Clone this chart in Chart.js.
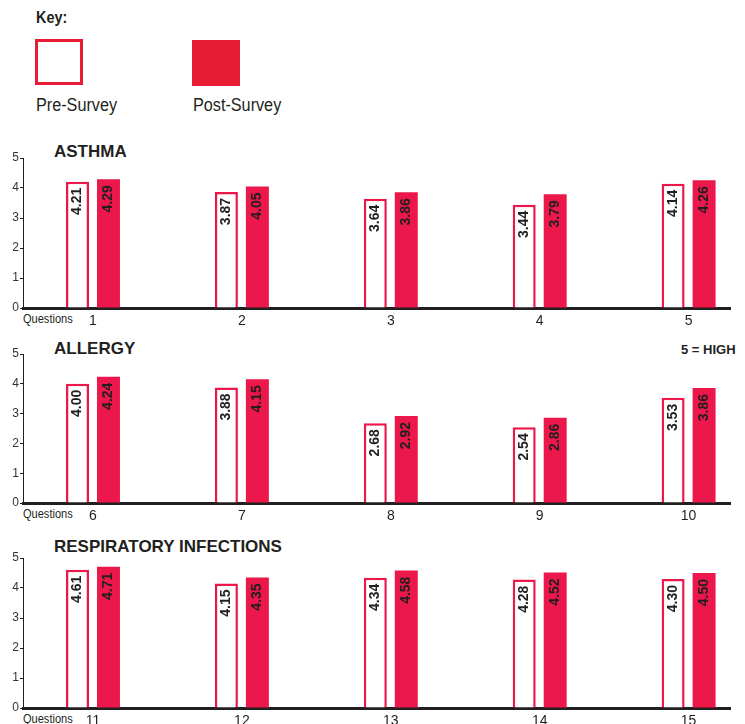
<!DOCTYPE html>
<html>
<head>
<meta charset="utf-8">
<script src="https://cdn.jsdelivr.net/npm/chart.js@4/dist/chart.umd.min.js"></script>
<style>
  html, body { margin: 0; padding: 0; background: #fff; }
  body { width: 745px; height: 724px; position: relative; overflow: hidden;
         font-family: "Liberation Sans", Arial, sans-serif; color: #231f20; }
  .abs { position: absolute; white-space: nowrap; }
  .key { left: 36px; top: 10px; font-size: 16px; line-height: 16px; font-weight: bold;
         transform: scaleX(0.9); transform-origin: left top; }
  .swatch { width: 48px; height: 46px; box-sizing: border-box; }
  .swatch.pre { left: 35px; top: 39px; border: 3.5px solid #E81C34; background: #fff; }
  .swatch.post { left: 192px; top: 40px; background: #E81C34; }
  .keylbl { top: 96px; font-size: 18px; line-height: 18px; transform: scaleX(0.9); transform-origin: left top; }
  .title { font-size: 17px; line-height: 17px; font-weight: bold; left: 54px; }
  .high { left: 681px; top: 343px; font-size: 13px; line-height: 13px; font-weight: bold; }
  .qlbl { left: 23px; font-size: 12px; line-height: 12px; transform: scaleX(0.92); transform-origin: left top; }
  .chartbox { position: absolute; left: 0; width: 745px; }
</style>
</head>
<body>
<div class="abs key">Key:</div>
<div class="abs swatch pre"></div>
<div class="abs swatch post"></div>
<div class="abs keylbl" style="left:36px">Pre-Survey</div>
<div class="abs keylbl" style="left:193px">Post-Survey</div>

<div class="abs title" style="top:143px">ASTHMA</div>
<div class="abs title" style="top:340px">ALLERGY</div>
<div class="abs high">5 = HIGH</div>
<div class="abs title" style="top:538px">RESPIRATORY INFECTIONS</div>

<div class="abs qlbl" style="top:313px">Questions</div>
<div class="abs qlbl" style="top:508px">Questions</div>
<div class="abs qlbl" style="top:713px">Questions</div>

<div class="chartbox" style="top:148px;height:184px"><canvas id="asthma"></canvas></div>
<div class="chartbox" style="top:344px;height:183px"><canvas id="allergy"></canvas></div>
<div class="chartbox" style="top:548px;height:184px"><canvas id="resp"></canvas></div>

<script>
// Mean scores on a 1-5 scale (5 = high), before and after the program
const asthmaQuestions = [1, 2, 3, 4, 5];
const asthmaPre  = [4.21, 3.87, 3.64, 3.44, 4.14];
const asthmaPost = [4.29, 4.05, 3.86, 3.79, 4.26];

const allergyQuestions = [6, 7, 8, 9, 10];
const allergyPre  = [4.00, 3.88, 2.68, 2.54, 3.53];
const allergyPost = [4.24, 4.15, 2.92, 2.86, 3.86];

const respQuestions = [11, 12, 13, 14, 15];
const respPre  = [4.61, 4.15, 4.34, 4.28, 4.30];
const respPost = [4.71, 4.35, 4.58, 4.52, 4.50];

const yTicks = [0, 1, 2, 3, 4, 5];

const RED = '#EC174B';
const INK = '#231f20';

// Writes each bar's value, rotated, just inside the top of the bar
const valueLabels = {
  id: 'valueLabels',
  afterDatasetsDraw(chart) {
    const ctx = chart.ctx;
    ctx.save();
    ctx.font = 'bold 14px "Liberation Sans", Arial, sans-serif';
    ctx.fillStyle = INK;
    ctx.textAlign = 'right';
    ctx.textBaseline = 'middle';
    chart.data.datasets.forEach((ds, di) => {
      chart.getDatasetMeta(di).data.forEach((bar, i) => {
        ctx.save();
        ctx.translate(bar.x, bar.y + 6);
        ctx.rotate(-Math.PI / 2);
        ctx.fillText(ds.data[i].y.toFixed(2), 0, 0);
        ctx.restore();
      });
    });
    ctx.restore();
  }
};

function makeChart(id, questions, pre, post) {
  const slots = questions.map((q, i) => i + 1);
  return new Chart(document.getElementById(id), {
    type: 'bar',
    data: {
      datasets: [
        {
          label: 'Pre-Survey',
          data: slots.map((s, i) => ({ x: s, y: pre[i] })),
          backgroundColor: '#ffffff',
          borderColor: RED,
          borderWidth: 2.5,
          borderSkipped: 'start'
        },
        {
          label: 'Post-Survey',
          data: slots.map((s, i) => ({ x: s, y: post[i] })),
          backgroundColor: RED,
          borderWidth: 0
        }
      ]
    },
    options: {
      responsive: true,
      maintainAspectRatio: false,
      animation: false,
      categoryPercentage: 0.416,
      barPercentage: 0.742,
      layout: { padding: { top: 10, right: 15, left: 0, bottom: 0 } },
      plugins: { legend: { display: false }, tooltip: { enabled: false }, title: { display: false } },
      scales: {
        x: {
          type: 'linear',
          offset: false,
          min: 0.53,
          max: 5.278,
          afterBuildTicks(scale) { scale.ticks = slots.map(v => ({ value: v })); },
          afterFit(scale) { scale.height = 24; },
          grid: { display: false, offset: false, drawTicks: false },
          border: { display: true, color: INK, width: 3 },
          ticks: {
            autoSkip: false,
            maxRotation: 0,
            padding: 5,
            color: INK,
            font: { family: '"Liberation Sans", Arial, sans-serif', size: 14 },
            callback: (v, i) => String(questions[i])
          }
        },
        y: {
          min: 0,
          max: 5,
          afterBuildTicks(scale) { scale.ticks = yTicks.map(v => ({ value: v })); },
          afterFit(scale) { scale.width = 23; },
          grid: { drawOnChartArea: false, drawTicks: true, tickLength: 3, color: INK },
          border: { display: true, color: INK, width: 1 },
          ticks: {
            padding: 1,
            color: '#333',
            font: { family: '"Liberation Sans", Arial, sans-serif', size: 12 },
            callback: v => String(v)
          }
        }
      }
    },
    plugins: [valueLabels]
  });
}

makeChart('asthma', asthmaQuestions, asthmaPre, asthmaPost);
makeChart('allergy', allergyQuestions, allergyPre, allergyPost);
makeChart('resp', respQuestions, respPre, respPost);
</script>
</body>
</html>
